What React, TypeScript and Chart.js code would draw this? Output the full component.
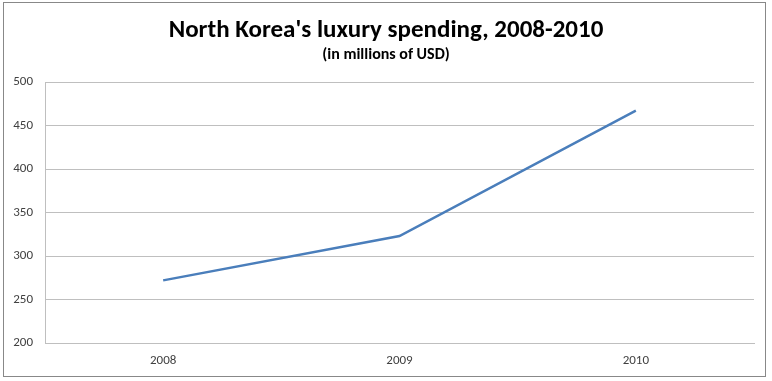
import React, { useEffect, useRef } from "react";
import { Chart, registerables } from "chart.js";

Chart.register(...registerables);

const categories = ["2008", "2009", "2010"];
const spending = [272, 323, 467];
const yTicks = [200, 250, 300, 350, 400, 450, 500];
const titleText = "North Korea's luxury spending, 2008-2010";
const subtitleText = "(in millions of USD)";

const FONT = "Carlito, Lato, 'Open Sans', sans-serif";

const framePlugin = {
  id: "frame",
  beforeDraw(chart: any) {
    const { ctx, width, height } = chart;
    ctx.save();
    ctx.fillStyle = "#ffffff";
    ctx.fillRect(0, 0, width, height);
    ctx.strokeStyle = "#888888";
    ctx.lineWidth = 1;
    ctx.strokeRect(3.5, 2.5, 762, 374);
    ctx.restore();
  },
  afterDraw(chart: any) {
    const { ctx, width } = chart;
    ctx.save();
    ctx.fillStyle = "#000000";
    ctx.textAlign = "center";
    ctx.textBaseline = "middle";
    ctx.font = `bold 25px ${FONT}`;
    ctx.fillText(titleText, width / 2, 31);
    ctx.font = `bold 16px ${FONT}`;
    ctx.fillText(subtitleText, width / 2, 55);
    ctx.restore();
  },
};

export default function App() {
  const ref = useRef<HTMLCanvasElement | null>(null);
  useEffect(() => {
    if (!ref.current) return;
    const chart = new Chart(ref.current, {
      type: "line",
      data: {
        labels: categories,
        datasets: [
          {
            data: spending,
            borderColor: "#4a7ebb",
            borderWidth: 2.5,
            pointRadius: 0,
            tension: 0,
            fill: false,
          },
        ],
      },
      options: {
        animation: false,
        responsive: false,
        layout: { padding: { left: 4, right: 18, top: 82, bottom: 0 } },
        plugins: { legend: { display: false }, tooltip: { enabled: false } },
        scales: {
          x: {
            offset: true,
            grid: { display: false, drawTicks: false },
            border: { display: true, color: "#bfbfbf", width: 1 },
            ticks: { color: "#404040", font: { size: 13, family: FONT }, padding: 10 },
            afterFit(s: any) {
              s.height = 38;
            },
          },
          y: {
            min: 200,
            max: 500,
            afterBuildTicks(s: any) {
              s.ticks = yTicks.map((v) => ({ value: v }));
            },
            grid: { color: "#bfbfbf", drawTicks: false },
            border: { display: true, color: "#bfbfbf" },
            ticks: { color: "#404040", font: { size: 13, family: FONT }, padding: 12 },
            afterFit(s: any) {
              s.width = 41;
            },
          },
        },
      },
      plugins: [framePlugin],
    });
    return () => chart.destroy();
  }, []);
  return (
    <div style={{ position: "fixed", left: 0, top: 0, width: 772, height: 381 }}>
      <canvas ref={ref} width={772} height={381} style={{ width: 772, height: 381 }} />
    </div>
  );
}
